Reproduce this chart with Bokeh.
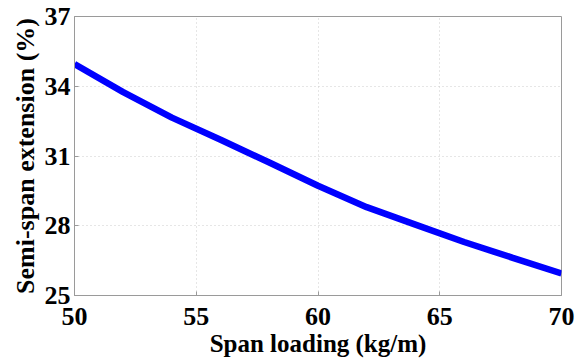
from bokeh.plotting import figure
from bokeh.models import Range1d, FixedTicker
from bokeh.embed import file_html
from bokeh.resources import INLINE

span_loading = [50, 52, 54, 56, 58, 60, 62, 64, 66, 68, 70]
semi_span_ext = [34.95, 33.75, 32.65, 31.7, 30.72, 29.72, 28.8, 28.05, 27.3, 26.62, 25.95]
x_ticks = [50, 55, 60, 65, 70]
y_ticks = [25, 28, 31, 34, 37]

FONT = "Liberation Serif"

p = figure(width=577, height=360, output_backend="svg", toolbar_location=None,
           x_range=Range1d(50, 70), y_range=Range1d(25, 37),
           min_border_left=74, min_border_right=16, min_border_top=16, min_border_bottom=65)
p.background_fill_color = "white"
p.border_fill_color = "white"
p.outline_line_color = "#9a9a9a"
p.outline_line_width = 1

p.line(span_loading, semi_span_ext, line_color="#0000ff", line_width=6.5)

for ax, ticks in ((p.xaxis, x_ticks), (p.yaxis, y_ticks)):
    ax.ticker = FixedTicker(ticks=ticks)
    ax.axis_line_color = "#9a9a9a"
    ax.major_tick_line_color = "#9a9a9a"
    ax.major_tick_in = 4
    ax.major_tick_out = 0
    ax.minor_tick_line_color = None
    ax.major_label_text_font = FONT
    ax.major_label_text_font_style = "bold"
    ax.major_label_text_font_size = "26px"
    ax.major_label_text_color = "black"
    ax.axis_label_text_font = FONT
    ax.axis_label_text_font_style = "bold"
    ax.axis_label_text_font_size = "25px"
    ax.axis_label_text_color = "black"

p.yaxis.axis_label_text_font_size = "26px"
p.xaxis.axis_label = "Span loading (kg/m)"
p.yaxis.axis_label = "Semi-span extension (%)"
p.xaxis.major_label_standoff = 12
p.xaxis.axis_label_standoff = 2
p.yaxis.major_label_standoff = 4
p.yaxis.axis_label_standoff = 2

for g in (p.xgrid, p.ygrid):
    g.grid_line_color = "#cccccc"
    g.grid_line_dash = "1 3"
    g.grid_line_width = 1

open("out.html", "w").write(file_html(p, INLINE))
